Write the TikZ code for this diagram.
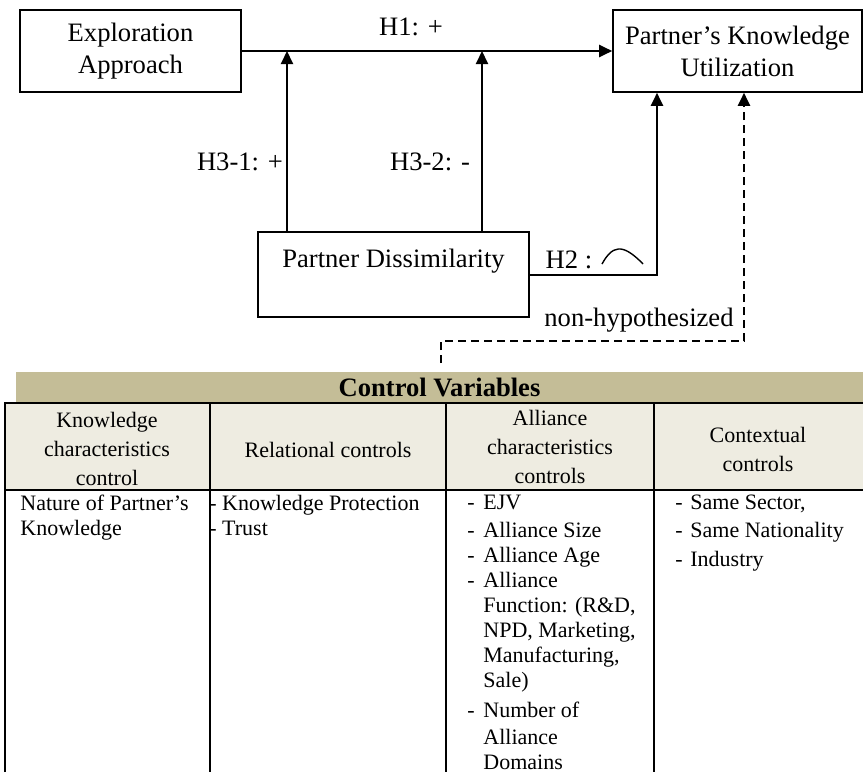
\documentclass[tikz,border=0pt]{standalone}
\usepackage{fontspec}
\setmainfont{Liberation Serif}
\usepackage{tikz}
\usetikzlibrary{
  arrows.meta,
  positioning,
  calc
}
\definecolor{barcolor}{RGB}{196, 189, 151}
\definecolor{headfill}{RGB}{238, 236, 225}
\definecolor{labelcolor}{RGB}{0, 0, 0}
\newcommand{\ctlitem}[2][8pt]{\makebox[#1][l]{-}#2}
\tikzset{
boxtext/.style={
  align=center,
  font=\fontsize{13.3}{16}\selectfont,
  text=labelcolor
},
conceptbox/.style={
  draw,
  line width=0.8pt,
  inner sep=2pt,
  boxtext
},
hyplabel/.style={
  font=\fontsize{13.3}{16}\selectfont,
  text=labelcolor
},
arrow/.style={
  -{Triangle[length=6.5pt,width=6pt]},
  line width=1pt
},
dashedarrow/.style={
  arrow,
  dash pattern=on 4pt off 2.5pt
},
tableline/.style={
  line width=1.3pt
},
barlabel/.style={
  fill=barcolor,
  minimum width=423.5pt,
  minimum height=15pt,
  inner sep=0pt,
  font=\bfseries\fontsize{13.3}{16}\selectfont
},
headtext/.style={
  align=center,
  font=\fontsize{11}{14.5}\selectfont
},
celltext/.style={
  align=left,
  anchor=north west,
  inner sep=0pt,
  font=\fontsize{11}{12.5}\selectfont
}
}

\begin{document}
\begin{tikzpicture}[x=0.5pt,y=-0.5pt]
  \useasboundingbox (0,0) rectangle (863,772);

  \node[conceptbox, minimum width=110.5pt, minimum height=41pt] (explore) at (130.5,51) {Exploration\\Approach};
  \node[conceptbox, minimum width=124.5pt, minimum height=41pt] (pku) at (737.5,51) {Partner's Knowledge\\Utilization};
  \node[conceptbox, minimum width=135.5pt, minimum height=42.5pt] (pd) at (393.5,274.5) {Partner Dissimilarity\\ \mbox{}};

  \coordinate (j1) at (287,51);
  \coordinate (j2) at (482,51);
  \coordinate (h2x) at (657,0);
  \coordinate (ctl) at (441,363);
  \coordinate (nh) at (744,341);

  \draw[arrow] (explore) -- (pku);
  \draw[arrow] (pd.north -| j1) -- (j1);
  \draw[arrow] (pd.north -| j2) -- (j2);
  \draw[arrow] (pd.east) -| (pku.south -| h2x);
  \draw[dashedarrow] (ctl) |- (nh) -- (pku.south -| nh);

  \node[hyplabel] (h1) at (411,27) {H1: +};
  \node[hyplabel] (h31) at (240,162) {H3-1: +};
  \node[hyplabel] (h32) at (430,162) {H3-2: -};
  \node[hyplabel] (h2) at (569,260) {H2 :};
  \draw[line width=0.7pt] (602,264) .. controls (612,246) and (622,242) .. (643,264);
  \node[hyplabel] (nonhyp) at (639,320) {non-hypothesized};

  \fill[headfill] (5,403) rectangle (863,490);
  \node[barlabel] (ctlbar) at (439.5,387) {Control Variables};
  \draw[tableline] (5,772) -- (5,403) -- (863,403);
  \draw[tableline] (5,490) -- (863,490);
  \foreach \x in {210,446,654}
    \draw[tableline] (\x,403) -- (\x,772);

  \node[headtext] (kchead) at (107,449) {Knowledge\\characteristics\\control};
  \node[headtext] (rchead) at (328,450) {Relational controls};
  \node[headtext] (achead) at (550,447) {Alliance\\characteristics\\controls};
  \node[headtext] (cchead) at (758,449) {Contextual\\controls};

  \node[celltext] (kcbody) at (20,495) {Nature of Partner's\\Knowledge};
  \node[celltext] (rcbody) at (209,495) {- Knowledge Protection\\- Trust};
  \node[celltext] (acbody) at (467,495) {\ctlitem{EJV}\\[1.5pt]
    \ctlitem{Alliance Size}\\
    \ctlitem{Alliance Age}\\
    \ctlitem{Alliance}\\
    \hspace*{8pt}Function: (R\&D,\\
    \hspace*{8pt}NPD, Marketing,\\
    \hspace*{8pt}Manufacturing,\\
    \hspace*{8pt}Sale)\\[2.5pt]
    \ctlitem{Number of}\\[1pt]
    \hspace*{8pt}Alliance\\
    \hspace*{8pt}Domains};
  \node[celltext] (ccbody) at (675,495) {\ctlitem[7.5pt]{Same Sector,}\\[1.5pt]
    \ctlitem[7.5pt]{Same Nationality}\\[2pt]
    \ctlitem[7.5pt]{Industry}};
\end{tikzpicture}
\end{document}
